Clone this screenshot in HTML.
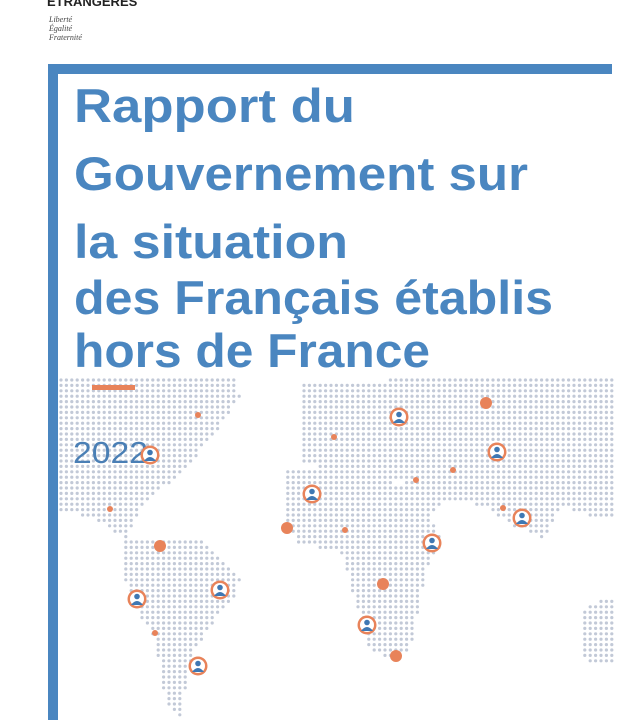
<!DOCTYPE html>
<html><head><meta charset="utf-8">
<style>
html,body{margin:0;padding:0;background:#fff;}
body{width:629px;height:720px;overflow:hidden;position:relative;font-family:"Liberation Sans",sans-serif;}
</style></head>
<body>
<svg id="s" width="629" height="720" viewBox="0 0 629 720" xmlns="http://www.w3.org/2000/svg" style="position:absolute;left:0;top:0">
<g id="dots" fill="#c2c9d7"></g>
<text x="47" y="6" font-family="Liberation Sans" font-weight="bold" font-size="13" fill="#222">ÉTRANGÈRES</text>
<g font-family="Liberation Serif" font-style="italic" font-size="8" fill="#444">
<text x="49" y="22">Liberté</text><text x="49" y="31">Égalité</text><text x="49" y="40">Fraternité</text>
</g>
<rect x="48" y="64" width="564" height="10" fill="#4a86c0"/>
<rect x="48" y="64" width="10" height="656" fill="#4a86c0"/>
<g font-family="Liberation Sans" font-weight="bold" font-size="47" fill="#4a86c0">
<text x="74" y="122" textLength="281" lengthAdjust="spacingAndGlyphs">Rapport du</text>
<text x="74" y="190" textLength="454" lengthAdjust="spacingAndGlyphs">Gouvernement sur</text>
<text x="74" y="258" textLength="274" lengthAdjust="spacingAndGlyphs">la situation</text>
<text x="74" y="314" textLength="479" lengthAdjust="spacingAndGlyphs">des Français établis</text>
<text x="74" y="367" textLength="356" lengthAdjust="spacingAndGlyphs">hors de France</text>
</g>
<rect x="92" y="385" width="43" height="5" fill="#e8835a"/>
<text x="73" y="463" font-family="Liberation Sans" font-size="31" fill="#4a7fb5" textLength="75" lengthAdjust="spacingAndGlyphs">2022</text>
<g id="marks"></g>
</svg>
<script>
var polys=[
[[60,378],[235,378],[240,395],[225,420],[205,445],[185,470],[160,490],[140,510],[125,540],[105,525],[80,515],[60,510]],
[[125,540],[200,538],[240,580],[235,600],[215,620],[195,650],[185,690],[180,715],[165,700],[155,640],[130,600],[122,570]],
[[300,385],[420,378],[615,378],[615,515],[590,515],[560,505],[545,540],[525,530],[510,525],[490,510],[460,500],[440,505],[425,520],[400,480],[360,470],[300,465]],
[[285,470],[370,465],[420,500],[445,545],[430,560],[420,600],[410,650],[390,660],[370,650],[355,600],[340,550],[300,545],[285,520]],
[[580,610],[615,595],[615,665],[585,660]]
];
function inside(x,y,p){var c=false;for(var i=0,j=p.length-1;i<p.length;j=i++){var xi=p[i][0],yi=p[i][1],xj=p[j][0],yj=p[j][1];if(((yi>y)!=(yj>y))&&(x<(xj-xi)*(y-yi)/(yj-yi)+xi))c=!c;}return c;}
var h='';
for(var y=380;y<720;y+=5.4){for(var x=61;x<616;x+=5.4){for(var k=0;k<polys.length;k++){if(inside(x,y,polys[k])){h+='<circle cx="'+x.toFixed(1)+'" cy="'+y.toFixed(1)+'" r="1.6"/>';break;}}}}
document.getElementById('dots').innerHTML=h;
var P=[[150,455],[312,494],[399,417],[497,452],[522,518],[432,543],[137,599],[220,590],[367,625],[198,666]];
var D=[[198,415,3],[334,437,3],[486,403,6],[453,470,3],[416,480,3],[503,508,3],[110,509,3],[287,528,6],[345,530,3],[160,546,6],[383,584,6],[155,633,3],[396,656,6]];
var m='';
P.forEach(function(p){var x=p[0],y=p[1];m+='<circle cx="'+x+'" cy="'+y+'" r="9.5" fill="#e8835a"/><circle cx="'+x+'" cy="'+y+'" r="7" fill="#fff"/><circle cx="'+x+'" cy="'+(y-2.5)+'" r="2.8" fill="#3f78b3"/><path d="M'+(x-6)+' '+(y+6)+' Q'+x+' '+(y-2)+' '+(x+6)+' '+(y+6)+' Z" fill="#3f78b3"/>';});
D.forEach(function(d){m+='<circle cx="'+d[0]+'" cy="'+d[1]+'" r="'+d[2]+'" fill="#e8835a"/>';});
document.getElementById('marks').innerHTML=m;
</script>
</body></html>
